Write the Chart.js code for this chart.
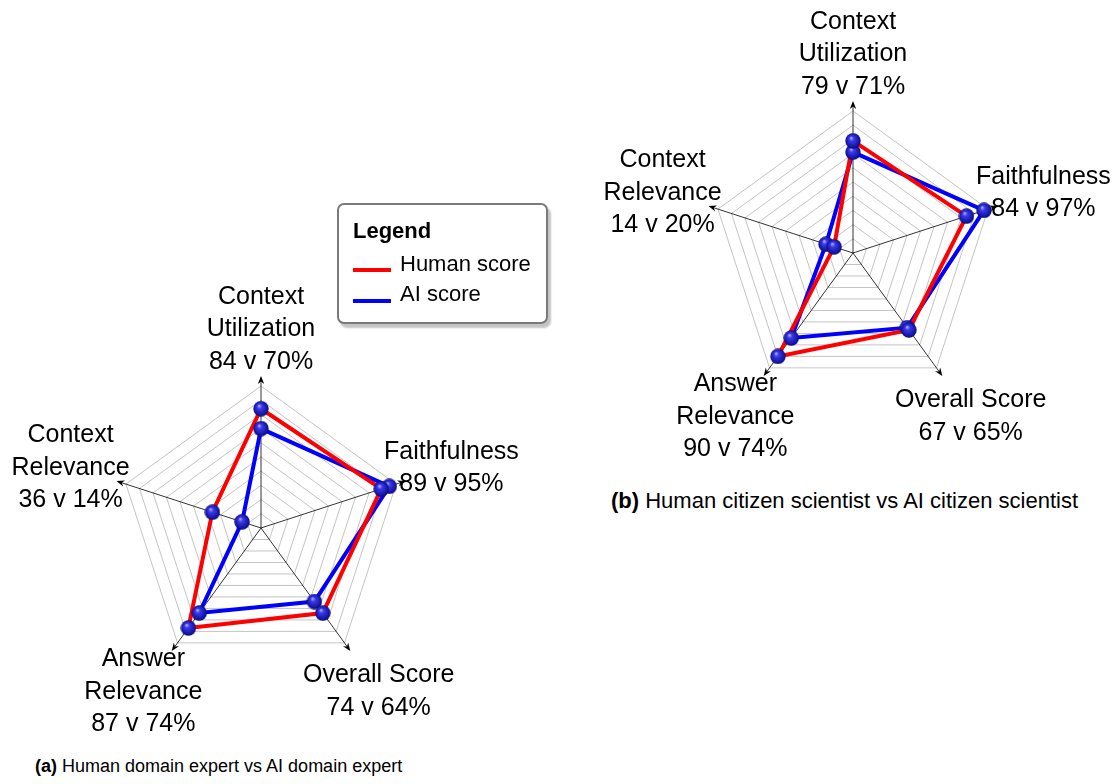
<!DOCTYPE html>
<html lang="en">
<head>
<meta charset="UTF-8">
<title>Human vs AI scores</title>
<script src="https://cdn.jsdelivr.net/npm/chart.js"></script>
<style>
    body { margin: 0; background: #fff; font-family: "Liberation Sans", Arial, sans-serif; }
    #page { position: relative; width: 1116px; height: 784px; overflow: hidden; }
    canvas { position: absolute; }
    #chartA { left: 0; top: 250px; }
    #chartB { left: 560px; top: 0; }
    .caption { position: absolute; line-height: 20px; white-space: nowrap; color: #000; }
    #capA { left: 35px; top: 756px; font-size: 18px; }
    #capB { left: 611px; top: 489px; font-size: 22px; line-height: 24px; }
    #legend { position: absolute; left: 337px; top: 203px; width: 207px; height: 117px;
              border: 2px solid #7a7a7a; border-radius: 7px; background: #fff;
              box-shadow: 3px 4px 2px #c4c4c4; }
    #legend .title { position: absolute; left: 14px; top: 13px; font-weight: bold; font-size: 22px; line-height: 26px; }
    #legend .item { position: absolute; left: 61px; font-size: 22px; line-height: 26px; white-space: nowrap; }
    #legend .swatch { position: absolute; left: 14px; width: 38px; height: 4px; }
</style>
</head>
<body>
<div id="page">
    <canvas id="chartA" width="560" height="500"></canvas>
    <canvas id="chartB" width="556" height="480"></canvas>
    <div id="legend"><div class="title">Legend</div></div>
    <div class="caption" id="capA"><b>(a)</b> Human domain expert vs AI domain expert</div>
    <div class="caption" id="capB"><b>(b)</b> Human citizen scientist vs AI citizen scientist</div>
</div>
<script>
    // axes, clockwise from the top
    const axisNames = [['Context', 'Utilization'], ['Faithfulness'], ['Overall Score'], ['Answer', 'Relevance'], ['Context', 'Relevance']];

    // (a) domain expert
    const expertHuman = [84, 89, 74, 87, 36];
    const expertAI = [70, 95, 64, 74, 14];

    // (b) citizen scientist
    const citizenHuman = [79, 84, 67, 90, 14];
    const citizenAI = [71, 97, 65, 74, 20];

    const seriesNames = ['Human score', 'AI score'];
    const seriesColors = ['#ff0000', '#0000ff'];

    // shaded ball marker
    function makeBall(d) {
        const c = document.createElement('canvas');
        c.width = c.height = d;
        const g = c.getContext('2d');
        const r = d / 2;
        const grad = g.createRadialGradient(r * 0.75, r * 0.6, 0, r, r, r);
        grad.addColorStop(0, '#c0c0ff');
        grad.addColorStop(0.3, '#3a3ae8');
        grad.addColorStop(0.8, '#1616aa');
        grad.addColorStop(1, '#08085a');
        g.fillStyle = grad;
        g.beginPath();
        g.arc(r, r, r - 0.3, 0, Math.PI * 2);
        g.fill();
        return c;
    }
    const ball = makeBall(16);

    const axesAndLabels = {
        id: 'axesAndLabels',
        beforeDatasetsDraw(chart) {
            const r = chart.scales.r, ctx = chart.ctx;
            ctx.save();
            ctx.strokeStyle = '#000';
            ctx.fillStyle = '#000';
            ctx.lineWidth = 0.8;
            chart.data.labels.forEach((_, i) => {
                const tip = r.getPointPosition(i, r.drawingArea * 1.07);
                const a = Math.atan2(tip.y - r.yCenter, tip.x - r.xCenter);
                const dx = Math.cos(a), dy = Math.sin(a);
                ctx.beginPath();
                ctx.moveTo(r.xCenter, r.yCenter);
                ctx.lineTo(tip.x - dx * 4, tip.y - dy * 4);
                ctx.stroke();
                ctx.beginPath();
                ctx.moveTo(tip.x, tip.y);
                ctx.lineTo(tip.x - dx * 8 - dy * 3.2, tip.y - dy * 8 + dx * 3.2);
                ctx.lineTo(tip.x - dx * 5.5, tip.y - dy * 5.5);
                ctx.lineTo(tip.x - dx * 8 + dy * 3.2, tip.y - dy * 8 - dx * 3.2);
                ctx.closePath();
                ctx.fill();
            });
            ctx.restore();
        },
        afterDraw(chart) {
            const r = chart.scales.r, ctx = chart.ctx;
            const human = chart.data.datasets[0].data, ai = chart.data.datasets[1].data;
            const lh = 32.5;
            ctx.save();
            ctx.fillStyle = '#000';
            ctx.font = '25px "Liberation Sans", Arial, sans-serif';
            ctx.textAlign = 'center';
            ctx.textBaseline = 'alphabetic';
            chart.data.labels.forEach((name, i) => {
                const lines = name.concat([human[i] + ' v ' + ai[i] + '%']);
                const p = r.getPointPosition(i, r.drawingArea * 1.41);
                lines.forEach((t, k) => {
                    ctx.fillText(t, p.x, p.y + (k - (lines.length - 1) / 2) * lh + 8.7);
                });
            });
            ctx.restore();
        }
    };

    function makeRadar(id, human, ai, pad) {
        return new Chart(document.getElementById(id), {
            type: 'radar',
            data: {
                labels: axisNames,
                datasets: [
                    { label: seriesNames[0], data: human, borderColor: seriesColors[0], borderWidth: 4, fill: false, pointRadius: 0, order: 1 },
                    { label: seriesNames[1], data: ai, borderColor: seriesColors[1], borderWidth: 4, fill: false, pointRadius: 0, order: 2 },
                    { data: human, borderWidth: 0, borderColor: 'rgba(0,0,0,0)', fill: false, pointStyle: ball, pointRadius: 8, order: 0 },
                    { data: ai, borderWidth: 0, borderColor: 'rgba(0,0,0,0)', fill: false, pointStyle: ball, pointRadius: 8, order: 0 }
                ]
            },
            options: {
                responsive: false,
                animation: false,
                layout: { padding: pad },
                plugins: { legend: { display: false }, tooltip: { enabled: false } },
                scales: {
                    r: {
                        min: 0, max: 100,
                        ticks: { stepSize: 10, display: false },
                        grid: { color: '#c4c4c4', lineWidth: 1 },
                        angleLines: { display: false },
                        pointLabels: { display: false }
                    }
                }
            },
            plugins: [axesAndLabels]
        });
    }

    makeRadar('chartA', expertHuman, expertAI, { left: 119, top: 136, right: 157, bottom: 80 });
    makeRadar('chartB', citizenHuman, citizenAI, { left: 151, top: 111, right: 121, bottom: 85 });

    // legend box
    const legend = document.getElementById('legend');
    seriesNames.forEach((n, i) => {
        const sw = document.createElement('div');
        sw.className = 'swatch';
        sw.style.top = (63 + i * 31) + 'px';
        sw.style.background = seriesColors[i];
        legend.appendChild(sw);
        const it = document.createElement('div');
        it.className = 'item';
        it.style.top = (46 + i * 30) + 'px';
        it.textContent = n;
        legend.appendChild(it);
    });
</script>
</body>
</html>
